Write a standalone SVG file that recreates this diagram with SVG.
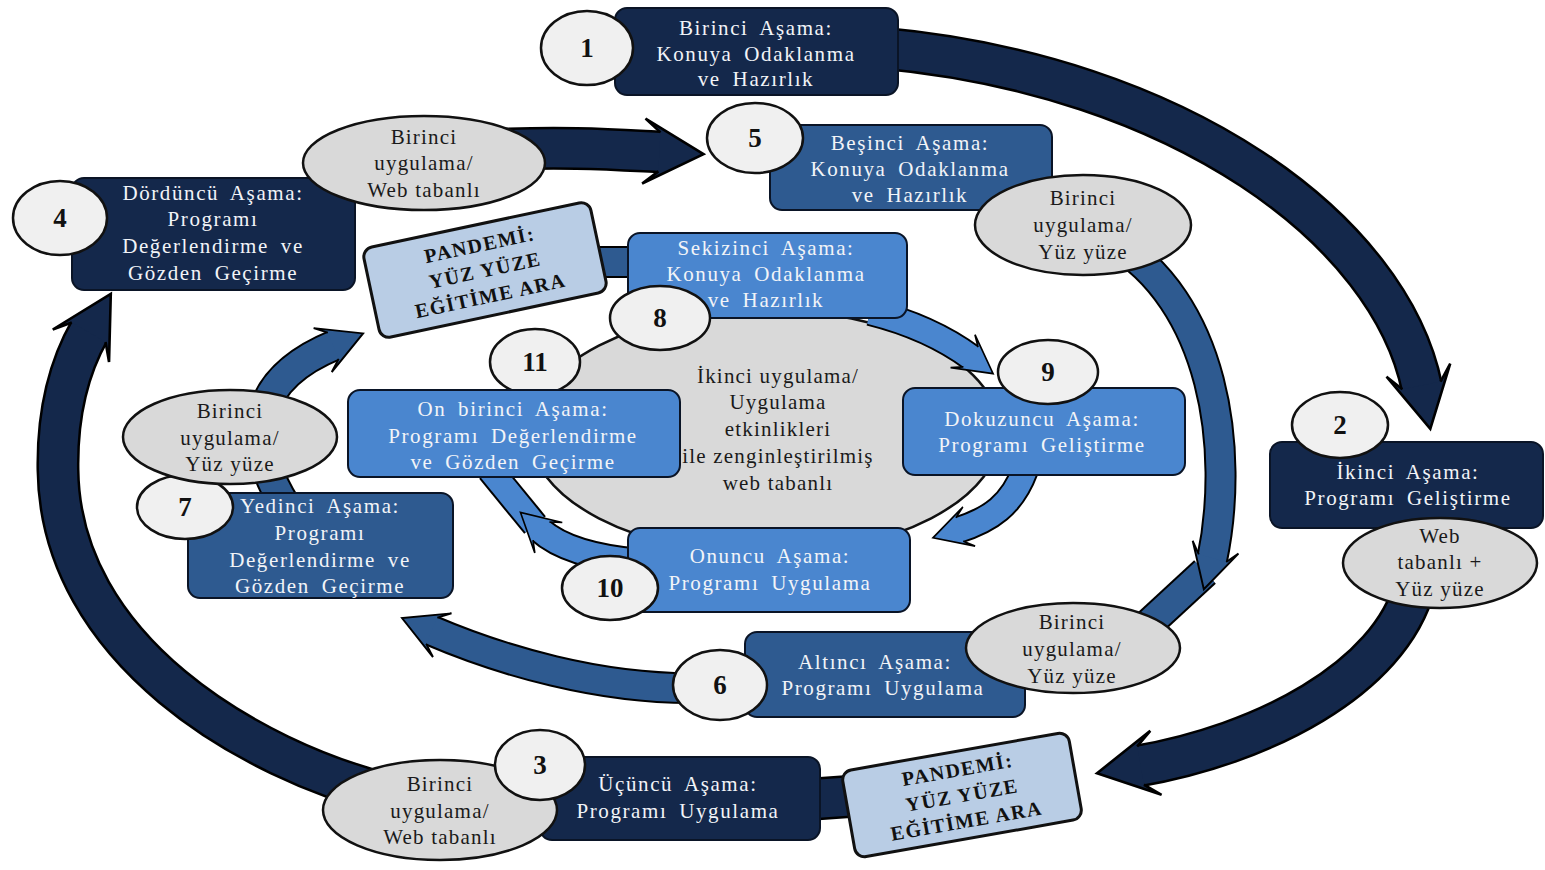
<svg xmlns="http://www.w3.org/2000/svg" xmlns:xlink="http://www.w3.org/1999/xlink" width="1545" height="870" viewBox="0 0 1545 870">
<style>
.nav{fill:#14284B;stroke:#0a1426;stroke-width:2}
.med{fill:#2E5A90;stroke:#0a1426;stroke-width:2}
.lt{fill:#4A86CF;stroke:#0a1426;stroke-width:2}
.num{fill:#F0F0F0;stroke:#111;stroke-width:2.5}
.gray{fill:#D9D9D9;stroke:#111;stroke-width:2.5}
.pan{fill:#B9CDE5;stroke:#111;stroke-width:3}
.t{font-family:"Liberation Serif",serif;font-size:21px;fill:#F2F4F8;text-anchor:middle;letter-spacing:1.6px;word-spacing:5px}
.g{font-family:"Liberation Serif",serif;font-size:21px;fill:#1a1a1a;text-anchor:middle;letter-spacing:1.2px}
.n{font-family:"Liberation Serif",serif;font-size:27px;font-weight:bold;fill:#111;text-anchor:middle}
.p{font-family:"Liberation Serif",serif;font-size:20px;font-weight:bold;fill:#111;text-anchor:middle;letter-spacing:1.5px}
.k1{fill:none;stroke:#000;stroke-width:43}
.c1{fill:none;stroke:#14284B;stroke-width:38}
.k2{fill:none;stroke:#000;stroke-width:32}
.c2{fill:none;stroke:#2E5A90;stroke-width:28}
.k3{fill:none;stroke:#000;stroke-width:28}
.c3{fill:none;stroke:#4A86CF;stroke-width:24}
</style>
<defs>
<g id="head">
<path d="M-2,-15 L-14,-25 L32,0 L-14,25 L-2,15 Z" stroke="none"/>
<path d="M-2,-15 L-14,-25 L32,0 L-14,25 L-2,15" fill="none" stroke="#000" stroke-width="2"/>
</g>
<path id="bA" d="M880,48 C1180,75 1390,230 1422,388"/>
<path id="bB" d="M1415,585 C1390,680 1260,745 1138,766"/>
<path id="bBC" d="M800,800 L870,795"/>
<path id="bC" d="M390,795 C250,760 60,650 58,470 C57,410 70,365 90,330"/>
<path id="bD" d="M480,150 C570,146 620,150 662,152"/>
<path id="bE" d="M1110,240 C1215,300 1235,450 1212,560"/>
<path id="bE2" d="M1205,572 L1140,632"/>
<path id="bF" d="M700,688 C600,690 500,660 430,630"/>
<path id="bG" d="M285,505 C245,440 250,380 335,345"/>
<path id="bGH" d="M590,262 L645,262"/>
<path id="bH" d="M870,312 C910,322 945,338 972,358"/>
<path id="bI" d="M1025,470 C1012,505 990,520 958,530"/>
<path id="bJ" d="M640,562 C595,558 560,548 540,530"/>
<path id="bJ2" d="M535,525 L490,470"/>
</defs>
<rect width="1545" height="870" fill="#ffffff"/>

<g id="center">
<ellipse class="gray" cx="765" cy="432" rx="235" ry="122"/>
<text class="g" x="778" y="383">İkinci uygulama/</text>
<text class="g" x="778" y="409">Uygulama</text>
<text class="g" x="778" y="436">etkinlikleri</text>
<text class="g" x="778" y="463">ile zenginleştirilmiş</text>
<text class="g" x="778" y="490">web tabanlı</text>
</g>

<g id="connectors">
<use href="#bA" class="k1"/><use href="#bA" class="c1"/>
<use href="#bB" class="k1"/><use href="#bB" class="c1"/>
<use href="#bBC" class="k1"/><use href="#bBC" class="c1"/>
<use href="#bC" class="k1"/><use href="#bC" class="c1"/>
<use href="#bD" class="k1"/><use href="#bD" class="c1"/>
<use href="#head" fill="#14284B" transform="translate(1422,388) rotate(78.5) scale(1.3)"/>
<use href="#head" fill="#14284B" transform="translate(1138,766) rotate(170) scale(1.3)"/>
<use href="#head" fill="#14284B" transform="translate(90,330) rotate(-60) scale(1.3)"/>
<use href="#head" fill="#14284B" transform="translate(662,152) rotate(3) scale(1.3)"/>

<use href="#bE" class="k2"/><use href="#bE" class="c2"/>
<use href="#bE2" class="k2"/><use href="#bE2" class="c2"/>
<use href="#bF" class="k2"/><use href="#bF" class="c2"/>
<use href="#bG" class="k2"/><use href="#bG" class="c2"/>
<use href="#bGH" class="k2"/><use href="#bGH" class="c2"/>
<use href="#head" fill="#2E5A90" transform="translate(1212,560) rotate(105.6) scale(0.95)"/>
<use href="#head" fill="#2E5A90" transform="translate(430,630) rotate(203) scale(0.95)"/>
<use href="#head" fill="#2E5A90" transform="translate(335,345) rotate(-22.4) scale(0.95)"/>

<use href="#bH" class="k3"/><use href="#bH" class="c3"/>
<use href="#bI" class="k3"/><use href="#bI" class="c3"/>
<use href="#bJ2" class="k3"/><use href="#bJ2" class="c3"/>
<use href="#bJ" class="k3"/><use href="#bJ" class="c3"/>
<use href="#head" fill="#4A86CF" transform="translate(972,358) rotate(36.5) scale(0.82)"/>
<use href="#head" fill="#4A86CF" transform="translate(958,530) rotate(162.6) scale(0.82)"/>
<use href="#head" fill="#4A86CF" transform="translate(540,530) rotate(222) scale(0.82)"/>
</g>

<g id="n1">
<rect class="nav" x="615" y="8" width="283" height="87" rx="12"/>
<ellipse class="num" cx="587" cy="48" rx="46" ry="37"/>
<text class="n" x="587" y="57">1</text>
<text class="t" x="756" y="35">Birinci Aşama:</text>
<text class="t" x="756" y="61">Konuya Odaklanma</text>
<text class="t" x="756" y="86">ve Hazırlık</text>
</g>

<g id="n2">
<rect class="nav" x="1270" y="442" width="273" height="86" rx="12"/>
<ellipse class="num" cx="1340" cy="425" rx="48" ry="33"/>
<text class="n" x="1340" y="434">2</text>
<text class="t" x="1408" y="479">İkinci Aşama:</text>
<text class="t" x="1408" y="505">Programı Geliştirme</text>
<ellipse class="gray" cx="1440" cy="563" rx="97" ry="45"/>
<text class="g" x="1440" y="543">Web</text>
<text class="g" x="1440" y="569">tabanlı +</text>
<text class="g" x="1440" y="596">Yüz yüze</text>
</g>

<g id="p2">
<g transform="translate(962,795) rotate(-10)">
<rect class="pan" x="-115" y="-44" width="230" height="88" rx="10"/>
<text class="p" x="0" y="-19">PANDEMİ:</text>
<text class="p" x="0" y="7">YÜZ YÜZE</text>
<text class="p" x="0" y="33">EĞİTİME ARA</text>
</g>
</g>

<g id="n3">
<rect class="nav" x="540" y="757" width="280" height="83" rx="12"/>
<ellipse class="gray" cx="440" cy="810" rx="117" ry="50"/>
<text class="g" x="440" y="791">Birinci</text>
<text class="g" x="440" y="818">uygulama/</text>
<text class="g" x="440" y="844">Web tabanlı</text>
<ellipse class="num" cx="540" cy="765" rx="45" ry="35"/>
<text class="n" x="540" y="774">3</text>
<text class="t" x="678" y="791">Üçüncü Aşama:</text>
<text class="t" x="678" y="818">Programı Uygulama</text>
</g>

<g id="n4">
<rect class="nav" x="72" y="178" width="283" height="112" rx="12"/>
<ellipse class="num" cx="60" cy="218" rx="47" ry="37"/>
<text class="n" x="60" y="227">4</text>
<text class="t" x="213" y="200">Dördüncü Aşama:</text>
<text class="t" x="213" y="226">Programı</text>
<text class="t" x="213" y="253">Değerlendirme ve</text>
<text class="t" x="213" y="280">Gözden Geçirme</text>
<ellipse class="gray" cx="424" cy="163" rx="121" ry="47"/>
<text class="g" x="424" y="144">Birinci</text>
<text class="g" x="424" y="170">uygulama/</text>
<text class="g" x="424" y="197">Web tabanlı</text>
</g>

<g id="n5">
<rect class="med" x="770" y="125" width="282" height="85" rx="12"/>
<ellipse class="num" cx="755" cy="138" rx="48" ry="35"/>
<text class="n" x="755" y="147">5</text>
<text class="t" x="910" y="150">Beşinci Aşama:</text>
<text class="t" x="910" y="176">Konuya Odaklanma</text>
<text class="t" x="910" y="202">ve Hazırlık</text>
<ellipse class="gray" cx="1083" cy="225" rx="108" ry="50"/>
<text class="g" x="1083" y="205">Birinci</text>
<text class="g" x="1083" y="232">uygulama/</text>
<text class="g" x="1083" y="259">Yüz yüze</text>
</g>

<g id="n6">
<rect class="med" x="745" y="632" width="280" height="85" rx="12"/>
<ellipse class="num" cx="720" cy="685" rx="47" ry="35"/>
<text class="n" x="720" y="694">6</text>
<text class="t" x="875" y="669">Altıncı Aşama:</text>
<text class="t" x="883" y="695">Programı Uygulama</text>
<ellipse class="gray" cx="1073" cy="648" rx="107" ry="45"/>
<text class="g" x="1072" y="629">Birinci</text>
<text class="g" x="1072" y="656">uygulama/</text>
<text class="g" x="1072" y="683">Yüz yüze</text>
</g>

<g id="n7">
<rect class="med" x="188" y="493" width="265" height="105" rx="12"/>
<ellipse class="num" cx="185" cy="507" rx="48" ry="32"/>
<text class="n" x="185" y="516">7</text>
<text class="t" x="320" y="513">Yedinci Aşama:</text>
<text class="t" x="320" y="540">Programı</text>
<text class="t" x="320" y="567">Değerlendirme ve</text>
<text class="t" x="320" y="593">Gözden Geçirme</text>
<ellipse class="gray" cx="230" cy="437" rx="107" ry="47"/>
<text class="g" x="230" y="418">Birinci</text>
<text class="g" x="230" y="445">uygulama/</text>
<text class="g" x="230" y="471">Yüz yüze</text>
</g>

<g id="p1">
<g transform="translate(485,270) rotate(-12)">
<rect class="pan" x="-116" y="-46" width="232" height="92" rx="10"/>
<text class="p" x="0" y="-19">PANDEMİ:</text>
<text class="p" x="0" y="7">YÜZ YÜZE</text>
<text class="p" x="0" y="33">EĞİTİME ARA</text>
</g>
</g>

<g id="n8">
<rect class="lt" x="628" y="233" width="279" height="85" rx="12"/>
<text class="t" x="766" y="255">Sekizinci Aşama:</text>
<text class="t" x="766" y="281">Konuya Odaklanma</text>
<text class="t" x="766" y="307">ve Hazırlık</text>
<ellipse class="num" cx="660" cy="318" rx="50" ry="32"/>
<text class="n" x="660" y="327">8</text>
</g>

<g id="n9">
<rect class="lt" x="903" y="388" width="282" height="87" rx="12"/>
<ellipse class="num" cx="1048" cy="372" rx="50" ry="32"/>
<text class="n" x="1048" y="381">9</text>
<text class="t" x="1042" y="426">Dokuzuncu Aşama:</text>
<text class="t" x="1042" y="452">Programı Geliştirme</text>
</g>

<g id="n10">
<rect class="lt" x="628" y="528" width="282" height="84" rx="12"/>
<ellipse class="num" cx="610" cy="588" rx="48" ry="32"/>
<text class="n" x="610" y="597">10</text>
<text class="t" x="770" y="563">Onuncu Aşama:</text>
<text class="t" x="770" y="590">Programı Uygulama</text>
</g>

<g id="n11">
<ellipse class="num" cx="535" cy="362" rx="45" ry="33"/>
<text class="n" x="535" y="371">11</text>
<rect class="lt" x="348" y="390" width="332" height="87" rx="12"/>
<text class="t" x="513" y="416">On birinci Aşama:</text>
<text class="t" x="513" y="443">Programı Değerlendirme</text>
<text class="t" x="513" y="469">ve Gözden Geçirme</text>
</g>
</svg>
